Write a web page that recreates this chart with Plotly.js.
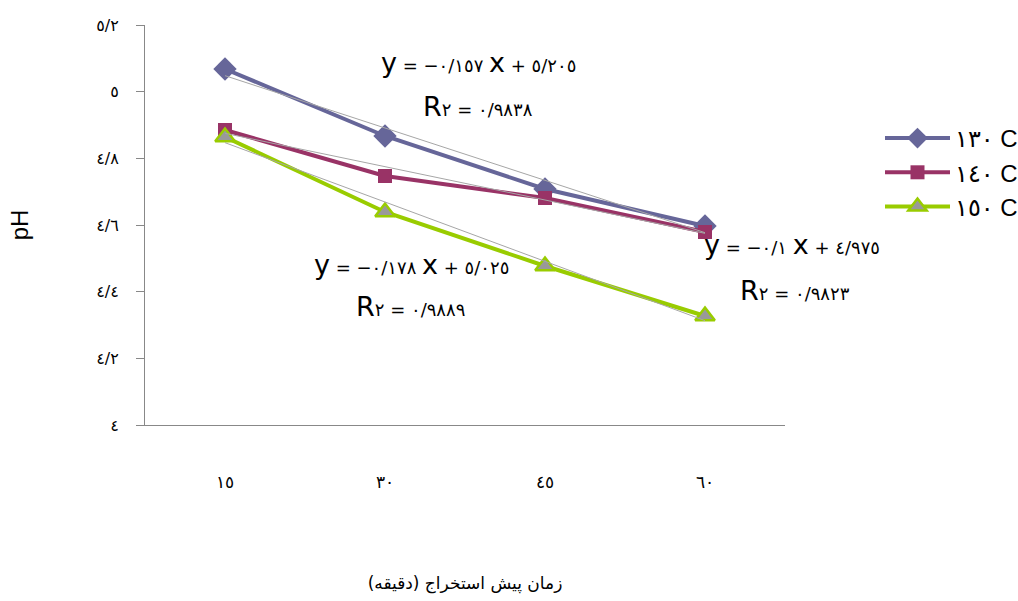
<!DOCTYPE html>
<html>
<head>
<meta charset="utf-8">
<script src="https://cdn.plot.ly/plotly-3.0.1.min.js"></script>
<style>
  html, body { margin: 0; padding: 0; background: #fff; }
  #chart { width: 1018px; height: 601px; }
</style>
</head>
<body>
<div id="chart"></div>
<script>
(function () {

	'use strict';

	// categories (minutes), shown in Arabic-Indic digits
	const minutes = ['١٥', '٣٠', '٤٥', '٦٠'];

	// pH readings per temperature
	const ph130 = [5.068, 4.867, 4.708, 4.597];
	const ph140 = [4.885, 4.747, 4.681, 4.579];
	const ph150 = [4.864, 4.639, 4.477, 4.327];

	const seriesNames = ['١٣٠ C', '١٤٠ C', '١٥٠ C'];

	// linear trend coefficients (slope, intercept), x = 1..4
	const trendSlope = [-0.157, -0.1, -0.178];
	const trendIntercept = [5.205, 4.975, 5.025];

	// y axis ticks
	const yTickVals = [4, 4.2, 4.4, 4.6, 4.8, 5, 5.2];
	const yTickText = ['٤', '٤/٢', '٤/٤', '٤/٦', '٤/٨', '٥', '٥/٢'];

	const colors = ['#666699', '#993366', '#99cc00'];
	const fontLatin = 'Liberation Sans, DejaVu Sans, sans-serif';
	const fontDigits = 'DejaVu Sans, sans-serif';
	const LRM = '\u200E'; // keeps "R٢ = ..." in left-to-right order

	/**
	* trend line from the displayed equation, first to last category
	*/
	const trendTrace = ( i ) => ({
		x: [ minutes[0], minutes[minutes.length - 1] ],
		y: [ trendSlope[i] * 1 + trendIntercept[i], trendSlope[i] * minutes.length + trendIntercept[i] ],
		type: 'scatter',
		mode: 'lines',
		line: { color: '#a6a6a6', width: 1 },
		showlegend: false,
		hoverinfo: 'skip',
	});

	const dataTrace = ( y, i, marker ) => ({
		x: minutes,
		y: y,
		name: seriesNames[i],
		type: 'scatter',
		mode: 'lines+markers',
		line: { color: colors[i], width: 4 },
		marker: marker,
	});

	const data = [
		dataTrace( ph130, 0, { symbol: 'diamond', size: 18, color: colors[0] }),
		dataTrace( ph140, 1, { symbol: 'square', size: 14, color: colors[1] }),
		dataTrace( ph150, 2, { symbol: 'triangle-up', size: 17, color: '#999999', line: { color: colors[2], width: 2.5 } }),
		trendTrace(0),
		trendTrace(1),
		trendTrace(2),
	];

	// equation label helper: big latin letters, smaller digits
	const big = ( s ) => `<span style="font-size:27px">${s}</span>`;
	const eqText = ( slope, icpt ) => `${big('y')} = −${slope} ${big('x')} + ${icpt}`;
	const r2Text = ( r ) => `${big('R')}٢${LRM} = ${LRM}${r}`;

	const eq = ( text, x, y ) => ({
		text, x, y,
		xref: 'paper', yref: 'paper',
		xanchor: 'center', yanchor: 'middle',
		showarrow: false,
		font: { family: fontDigits, size: 18, color: '#000' },
	});

	// paper coords: plot spans x 145..785, y 25..425 in pixels
	const px = ( v ) => ( v - 145 ) / 640;
	const py = ( v ) => ( 425 - v ) / 400;

	const layout = {
		width: 1018,
		height: 601,
		margin: { l: 145, r: 233, t: 25, b: 176, autoexpand: false },
		paper_bgcolor: '#fff',
		plot_bgcolor: '#fff',
		showlegend: true,
		legend: {
			x: px(880), y: py(116), xanchor: 'left', yanchor: 'top',
			font: { family: fontLatin, size: 24, color: '#000' },
			tracegroupgap: 0,
			itemwidth: 65,
		},
		xaxis: {
			type: 'category',
			range: [-0.5, 3.5],
			showline: true,
			linecolor: '#888',
			linewidth: 1,
			showgrid: false,
			zeroline: false,
			ticks: '',
			ticklabelstandoff: 42,
			tickfont: { family: fontDigits, size: 17, color: '#000' },
			title: {
				text: 'زمان پیش استخراج (دقیقه)',
				font: { family: fontDigits, size: 17, color: '#000' },
				standoff: 85,
			},
		},
		yaxis: {
			range: [4, 5.2],
			tickvals: yTickVals,
			ticktext: yTickText,
			showline: true,
			linecolor: '#888',
			linewidth: 1,
			ticks: 'outside',
			ticklen: 8,
			tickcolor: '#888',
			showgrid: false,
			zeroline: false,
			ticklabelstandoff: 14,
			tickfont: { family: fontDigits, size: 16, color: '#000' },
			title: {
				text: 'pH',
				font: { family: fontLatin, size: 24, color: '#000' },
				standoff: 60,
			},
		},
		annotations: [
			eq( eqText('٠/١٥٧', '٥/٢٠٥'), px(478), py(63) ),
			eq( r2Text('٠/٩٨٣٨'), px(478), py(106) ),
			eq( eqText('٠/١٧٨', '٥/٠٢٥'), px(411), py(264) ),
			eq( r2Text('٠/٩٨٨٩'), px(410), py(306) ),
			eq( eqText('٠/١', '٤/٩٧٥'), px(792), py(244) ),
			eq( r2Text('٠/٩٨٢٣'), px(795), py(290) ),
		],
	};

	Plotly.newPlot( 'chart', data, layout, { displayModeBar: false, responsive: false });

})();
</script>
</body>
</html>
